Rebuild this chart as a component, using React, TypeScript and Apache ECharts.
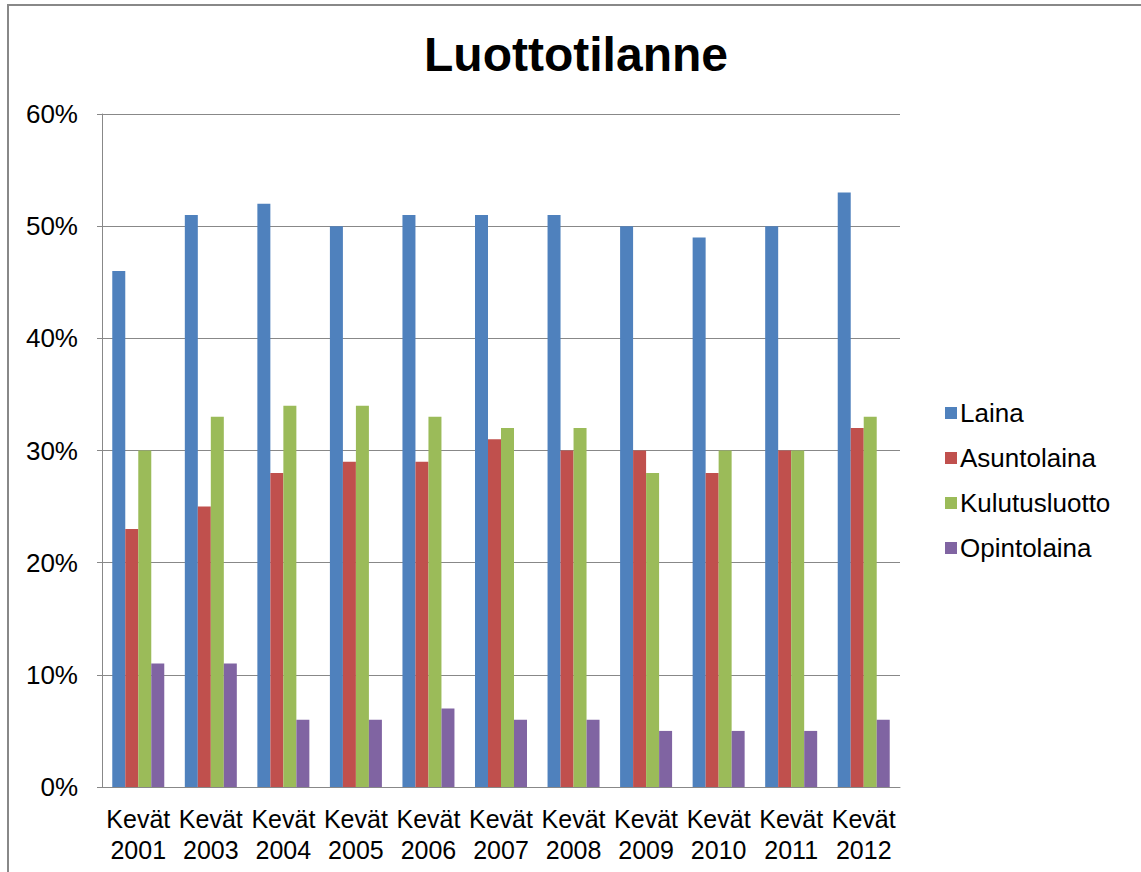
import React, { useEffect, useRef } from "react";
import * as echarts from "echarts";

const categories = ["Kevät\n2001", "Kevät\n2003", "Kevät\n2004", "Kevät\n2005", "Kevät\n2006", "Kevät\n2007", "Kevät\n2008", "Kevät\n2009", "Kevät\n2010", "Kevät\n2011", "Kevät\n2012"];
const laina = [46, 51, 52, 50, 51, 51, 51, 50, 49, 50, 53];
const asuntolaina = [23, 25, 28, 29, 29, 31, 30, 30, 28, 30, 32];
const kulutusluotto = [30, 33, 34, 34, 33, 32, 32, 28, 30, 30, 33];
const opintolaina = [11, 11, 6, 6, 7, 6, 6, 5, 5, 5, 6];
const seriesNames = ["Laina", "Asuntolaina", "Kulutusluotto", "Opintolaina"];
const colors = ["#4F81BD", "#C0504D", "#9BBB59", "#8064A2"];

export default function App() {
  const ref = useRef<HTMLDivElement>(null);
  useEffect(() => {
    if (!ref.current) return;
    const chart = echarts.init(ref.current, null, { renderer: "svg" });
    const font = "'Liberation Sans', Arial, sans-serif";
    const data = [laina, asuntolaina, kulutusluotto, opintolaina];
    chart.setOption({
      animation: false,
      backgroundColor: "#ffffff",
      textStyle: { fontFamily: font },
      title: {
        text: "Luottotilanne",
        left: 571,
        textAlign: "center",
        top: 25,
        textStyle: { fontFamily: font, fontSize: 48, fontWeight: "bold", color: "#000" },
      },
      graphic: [
        {
          type: "rect",
          shape: { x: 8, y: 5, width: 1200, height: 900 },
          style: { fill: "none", stroke: "#888888", lineWidth: 2 },
          silent: true,
        },
      ],
      legend: {
        orient: "vertical",
        left: 940,
        top: 395,
        itemWidth: 12,
        itemHeight: 12,
        itemGap: 19,
        icon: "rect",
        data: seriesNames,
        textStyle: { fontFamily: font, fontSize: 26, color: "#000", padding: [0, 0, 0, -2] },
      },
      grid: { left: 102, right: 241, top: 114, bottom: 85 },
      xAxis: {
        type: "category",
        data: categories,
        axisLine: { lineStyle: { color: "#888888", width: 1 } },
        axisTick: { show: false },
        axisLabel: { fontFamily: font, fontSize: 25, color: "#000", lineHeight: 31, margin: 16, interval: 0 },
      },
      yAxis: {
        type: "value",
        min: 0,
        max: 60,
        interval: 10,
        axisLine: { show: true, lineStyle: { color: "#888888", width: 1 } },
        axisTick: { show: true, length: 5, lineStyle: { color: "#888888" } },
        splitLine: { lineStyle: { color: "#888888", width: 1 } },
        axisLabel: { fontFamily: font, fontSize: 26, color: "#000", margin: 24, formatter: "{value}%" },
      },
      series: seriesNames.map((name, i) => ({
        name,
        type: "bar",
        data: data[i],
        barWidth: 13,
        barGap: "0%",
        itemStyle: { color: colors[i] },
      })),
    });
    return () => chart.dispose();
  }, []);
  return <div ref={ref} style={{ position: "fixed", left: 0, top: 0, width: 1141, height: 872 }} />;
}
